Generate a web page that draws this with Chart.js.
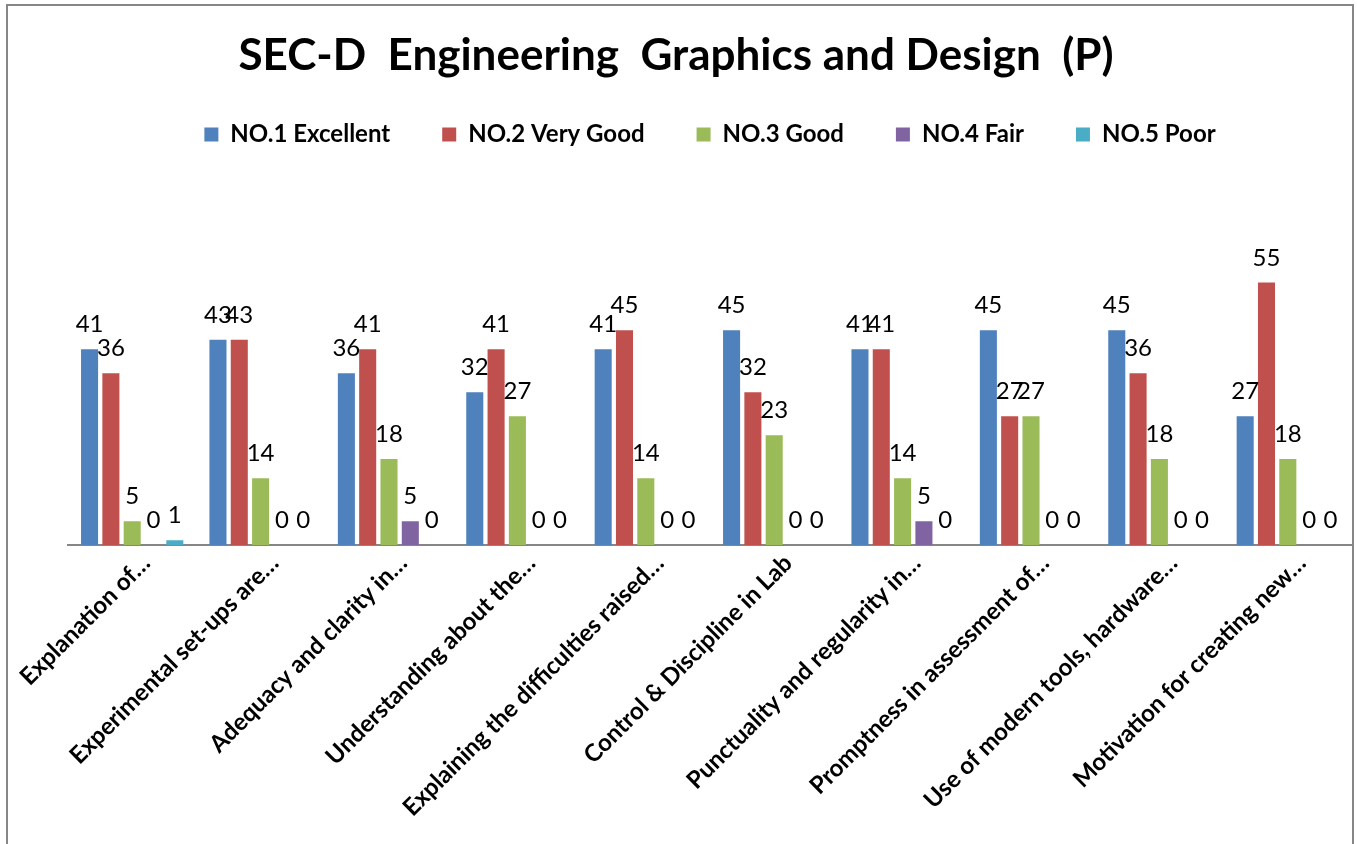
<!DOCTYPE html>
<html>
<head>
<meta charset="utf-8">
<script src="https://cdn.jsdelivr.net/npm/chart.js@4.4.1/dist/chart.umd.min.js"></script>
<style>
  body { margin: 0; background: #fff; }
  #wrap { position: absolute; left: 0; top: 0; width: 1357px; height: 844px; }
</style>
</head>
<body>
<div id="wrap"><canvas id="chart" width="1357" height="844"></canvas></div>
<script>
var questions = ["Explanation of…", "Experimental set-ups are…", "Adequacy and clarity in…",
  "Understanding about the…", "Explaining the difficulties raised…", "Control & Discipline in Lab",
  "Punctuality and regularity in…", "Promptness in assessment of…", "Use of modern tools, hardware…",
  "Motivation for creating new…"]

var excellent = [41, 43, 36, 32, 41, 45, 41, 45, 45, 27]
var veryGood  = [36, 43, 41, 41, 45, 32, 41, 27, 36, 55]
var good      = [5, 14, 18, 27, 14, 23, 14, 27, 18, 18]
var fair      = [0, 0, 5, 0, 0, 0, 5, 0, 0, 0]
var poor      = [1, 0, 0, 0, 0, 0, 0, 0, 0, 0]

var seriesNames = ["NO.1 Excellent", "NO.2 Very Good", "NO.3 Good", "NO.4 Fair", "NO.5 Poor"]
var colors = ["#4F81BD", "#C0504D", "#9BBB59", "#8064A2", "#4BACC6"]

// values on top of each bar, like excel data labels
var barLabels = {
  id: "barLabels",
  afterDatasetsDraw: function(chart) {
    var ctx = chart.ctx
    ctx.save()
    ctx.font = "24px Lato"
    ctx.fillStyle = "#000"
    ctx.textAlign = "center"
    ctx.textBaseline = "alphabetic"
    chart.data.datasets.forEach(function(ds, i) {
      chart.getDatasetMeta(i).data.forEach(function(bar, j) {
        ctx.fillText(ds.data[j], bar.x, bar.y - 17)
      })
    })
    ctx.restore()
  }
}

// grey frame round the chart
var frame = {
  id: "frame",
  beforeDraw: function(chart) {
    var ctx = chart.ctx
    ctx.save()
    ctx.strokeStyle = "#868686"
    ctx.lineWidth = 2
    ctx.strokeRect(7, 5, 1346, 900)
    ctx.restore()
  }
}

var datasets = [excellent, veryGood, good, fair, poor].map(function(vals, i) {
  return {
    label: seriesNames[i],
    data: vals,
    backgroundColor: colors[i],
    categoryPercentage: 0.83,
    barPercentage: 0.8
  }
})

new Chart(document.getElementById("chart"), {
  type: "bar",
  data: { labels: questions, datasets: datasets },
  options: {
    responsive: false,
    animation: false,
    devicePixelRatio: 1,
    layout: { padding: { left: 0, right: 5, top: 0, bottom: 0 } },
    scales: {
      x: {
        grid: { display: false, drawTicks: false },
        border: { display: true, color: "#868686", width: 2 },
        ticks: {
          color: "#000",
          font: { family: "Lato", size: 24, weight: "bold" },
          minRotation: 45,
          maxRotation: 45,
          autoSkip: false,
          padding: 4,
          labelOffset: 14
        },
        afterFit: function(axis) {
          axis.height = 299
          axis.paddingLeft = 0
          axis.paddingRight = 0
        }
      },
      y: {
        min: 0,
        max: 81.4,
        grid: { display: false, drawTicks: false },
        border: { display: false },
        ticks: { display: false },
        afterFit: function(axis) { axis.width = 68 }
      }
    },
    plugins: {
      title: {
        display: true,
        text: "SEC-D  Engineering  Graphics and Design  (P)",
        color: "#000",
        font: { family: "Lato", size: 44, weight: "bold", lineHeight: 1 },
        padding: { top: 34, bottom: -7.5 }
      },
      legend: {
        fullSize: false,
        labels: {
          color: "#000",
          font: { family: "Lato", size: 24, weight: "bold" },
          boxWidth: 14,
          boxHeight: 14,
          padding: 52
        }
      },
      tooltip: { enabled: false }
    }
  },
  plugins: [barLabels, frame]
})
</script>
</body>
</html>
